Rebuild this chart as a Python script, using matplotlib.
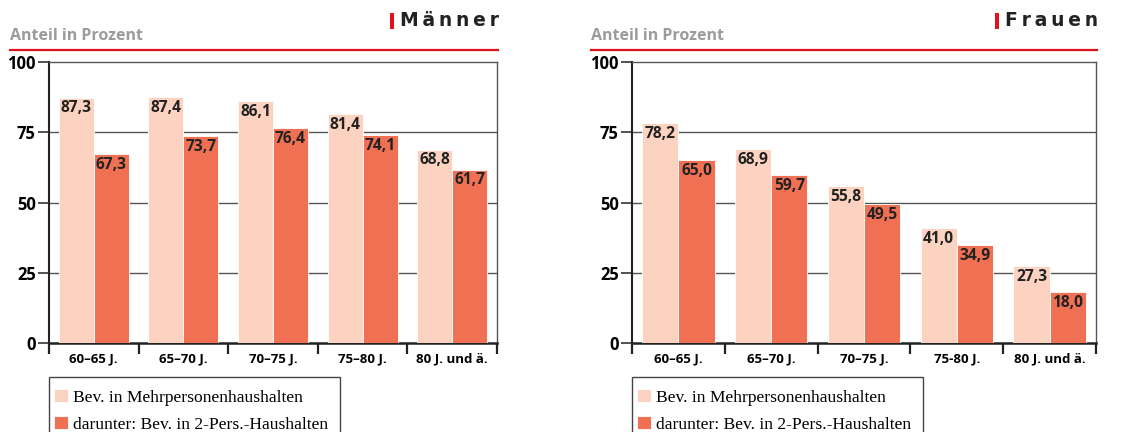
import numpy as np
import matplotlib
matplotlib.use('Agg')
import matplotlib.pyplot as plt
from matplotlib.patches import Rectangle

# categories and values (Anteil in Prozent)
categories_m = ['60–65 J.', '65–70 J.', '70–75 J.', '75–80 J.', '80 J. und ä.']
categories_f = ['60–65 J.', '65–70 J.', '70–75 J.', '75-80 J.', '80 J. und ä.']
maenner_mehr = [87.3, 87.4, 86.1, 81.4, 68.8]
maenner_zwei = [67.3, 73.7, 76.4, 74.1, 61.7]
frauen_mehr = [78.2, 68.9, 55.8, 41.0, 27.3]
frauen_zwei = [65.0, 59.7, 49.5, 34.9, 18.0]
legend_labels = ['Bev. in Mehrpersonenhaushalten', 'darunter: Bev. in 2-Pers.-Haushalten']

LIGHT = '#fbd3c0'
DARK = '#f07053'
RED = '#e3101e'
SANS = 'Open Sans'

W, H = 1122, 432


def fx(px):
    return px / W


def fy(py):
    return 1 - py / H


def draw_panel(fig, left_px, right_px, cats, mehr, zwei, title, head_left_px):
    ax = fig.add_axes([fx(left_px), fy(343), fx(right_px - left_px), (343 - 62) / H])
    x = np.arange(len(cats))
    w = 0.39
    b1 = ax.bar(x - w / 2, mehr, w, color=LIGHT, edgecolor='white', linewidth=0.6, zorder=3)
    b2 = ax.bar(x + w / 2, zwei, w, color=DARK, edgecolor='white', linewidth=0.6, zorder=3)

    # value labels inside the top of each bar
    for bars, vals in ((b1, mehr), (b2, zwei)):
        for rect, v in zip(bars, vals):
            ax.annotate(f'{v:.1f}'.replace('.', ','),
                        (rect.get_x() + rect.get_width() / 2, v),
                        xytext=(0, -2), textcoords='offset points',
                        ha='center', va='top', fontsize=11.2, fontweight='bold',
                        family=SANS, color='#222222', zorder=4)

    ax.set_xlim(-0.5, len(cats) - 0.5)
    ax.set_ylim(0, 100)
    ax.set_yticks([0, 25, 50, 75, 100])
    ax.set_yticklabels(['0', '25', '50', '75', '100'], fontsize=12,
                       fontweight='bold', family=SANS)
    ax.tick_params(axis='y', length=8, width=1.2, color='#333333', pad=1.5)
    for yv in (25, 50, 75):
        ax.axhline(yv, color='#555555', lw=1, zorder=1)

    # ticks between groups, labels at group centers
    ax.set_xticks(np.arange(len(cats) + 1) - 0.5)
    ax.set_xticklabels([])
    ax.tick_params(axis='x', which='major', length=8, width=1.6, color='#222222', direction='out')
    ax.set_xticks(x, minor=True)
    ax.set_xticklabels(cats, minor=True, fontsize=9.5, fontweight='bold', family=SANS)
    ax.tick_params(axis='x', which='minor', length=0, pad=7)

    for s in ax.spines.values():
        s.set_color('#555555')
        s.set_linewidth(1)
    ax.spines['left'].set_color('#222222')
    ax.spines['left'].set_linewidth(1.5)
    ax.spines['bottom'].set_color('#222222')
    ax.spines['bottom'].set_linewidth(1.8)

    # header: subtitle, red rule, panel title with red marker
    fig.text(fx(head_left_px), fy(36), 'Anteil in Prozent', fontsize=11.5,
             fontweight='bold', family=SANS, color='#9b9b9b', va='center')
    fig.add_artist(plt.Line2D([fx(head_left_px), fx(right_px + 1)], [fy(50), fy(50)],
                              color=RED, lw=1.6))
    t = fig.text(fx(right_px + 2), fy(21), title, fontsize=13.5, fontweight='bold',
                 family='DejaVu Sans', color='#222222', ha='right', va='center')
    fig.canvas.draw()
    bb = t.get_window_extent()
    fig.add_artist(Rectangle((bb.x0 / W - fx(10), fy(29)), fx(4), 16 / H,
                             transform=fig.transFigure, color=RED, lw=0))

    # legend box runs past the bottom edge, so draw the frame by hand
    fig.add_artist(Rectangle((fx(left_px), fy(445)), fx(291), 68 / H,
                             transform=fig.transFigure, facecolor='none',
                             edgecolor='#444444', lw=1))
    ax.legend([b1, b2], legend_labels, loc='upper left',
              bbox_to_anchor=(fx(left_px + 1), fy(385)),
              bbox_transform=fig.transFigure,
              prop={'family': 'Liberation Serif', 'size': 12.6},
              frameon=False, borderpad=0.25,
              handlelength=0.75, handleheight=0.75, handletextpad=0.3,
              labelspacing=0.6, borderaxespad=0)
    return ax


def main():
    fig = plt.figure(figsize=(W / 100, H / 100), dpi=100)
    draw_panel(fig, 49, 497, categories_m, maenner_mehr, maenner_zwei,
               'M\u2009ä\u2009n\u2009n\u2009e\u2009r', 10)
    draw_panel(fig, 632, 1096, categories_f, frauen_mehr, frauen_zwei,
               'F\u2009r\u2009a\u2009u\u2009e\u2009n', 591)
    fig.savefig('out.png', dpi=100)


if __name__ == "__main__":
    main()
